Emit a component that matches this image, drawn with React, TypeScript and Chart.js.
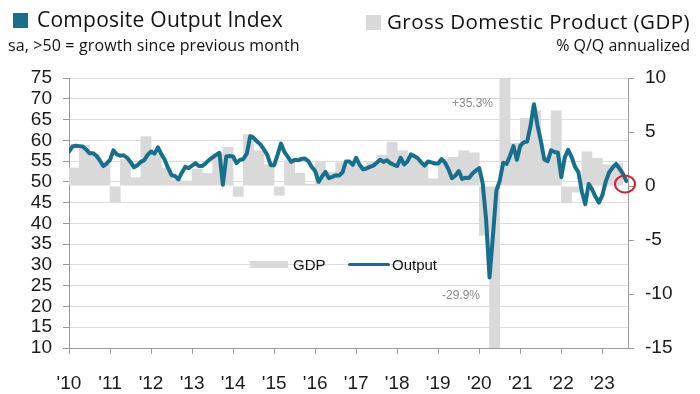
import React, { useEffect, useRef } from "react";
import { Chart, registerables } from "chart.js";

Chart.register(...registerables);

// ---------- data ----------
const yearTickLabels = ["'10", "'11", "'12", "'13", "'14", "'15", "'16", "'17", "'18", "'19", "'20", "'21", "'22", "'23"];

// Composite Output Index, monthly Jan 2010 .. Aug 2023 (sa, >50 = growth)
const output2010 = [57.3, 58.5, 58.7, 58.6, 58.5, 57.8, 56.9, 56.9, 56.3, 55.2, 53.8, 54.4];
const output2011 = [55.3, 57.6, 56.6, 56.3, 56.4, 55.8, 54.8, 53.5, 54.0, 54.8, 55.2, 56.5];
const output2012 = [57.3, 56.8, 58.3, 56.7, 55.3, 53.3, 51.6, 51.4, 50.6, 52.2, 53.6, 53.3];
const output2013 = [53.9, 54.5, 53.8, 53.8, 54.5, 55.3, 55.9, 56.5, 57.0, 49.3, 56.1, 56.2];
const output2014 = [56.1, 54.5, 55.3, 55.5, 56.8, 61.0, 60.6, 59.7, 59.0, 57.8, 56.5, 54.0];
const output2015 = [54.0, 56.5, 59.2, 57.2, 56.0, 54.8, 55.3, 55.2, 55.5, 55.6, 55.0, 53.6];
const output2016 = [52.6, 50.0, 51.3, 52.4, 50.9, 51.2, 51.6, 51.5, 52.3, 54.9, 54.9, 54.1];
const output2017 = [55.8, 54.1, 53.0, 53.2, 53.6, 53.9, 54.6, 55.3, 54.8, 55.2, 54.5, 54.1];
const output2018 = [53.8, 55.8, 54.2, 54.9, 56.6, 56.2, 55.7, 54.7, 53.9, 54.9, 54.7, 54.4];
const output2019 = [54.4, 55.5, 54.6, 53.0, 50.9, 51.5, 52.6, 50.7, 51.0, 50.9, 52.0, 52.7];
const output2020 = [53.3, 49.6, 40.9, 27.0, 37.0, 47.9, 50.3, 54.6, 54.3, 56.3, 58.6, 55.3];
const output2021 = [58.7, 59.5, 59.7, 63.5, 68.7, 63.7, 59.9, 55.4, 55.0, 57.6, 57.2, 57.0];
const output2022 = [51.1, 55.9, 57.7, 56.0, 53.6, 52.3, 47.7, 44.6, 49.5, 48.2, 46.4, 45.0];
const output2023 = [46.8, 50.1, 52.3, 53.4, 54.3, 53.2, 52.0, 50.2];

// GDP % Q/Q annualized, quarterly 2010Q1 .. 2023Q2
const gdp2010 = [1.7, 3.8, 2.9, 2.0];
const gdp2011 = [-1.5, 2.5, 0.8, 4.6];
const gdp2012 = [3.2, 1.7, 0.6, 0.5];
const gdp2013 = [1.6, 1.2, 3.0, 3.6];
const gdp2014 = [-1.0, 4.8, 3.3, 2.0];
const gdp2015 = [-0.9, 2.4, 1.2, 0.2];
const gdp2016 = [2.3, 1.3, 2.2, 2.0];
const gdp2017 = [1.9, 2.2, 2.9, 4.1];
const gdp2018 = [3.3, 2.7, 2.3, 0.7];
const gdp2019 = [2.5, 2.7, 3.3, 3.1];
const gdp2020 = [-4.6, -29.9, 35.3, 4.0];
const gdp2021 = [6.3, 7.0, 2.7, 7.0];
const gdp2022 = [-1.6, -0.6, 3.2, 2.6];
const gdp2023 = [2.0, 2.1];

const outputIndex = [
  ...output2010, ...output2011, ...output2012, ...output2013, ...output2014,
  ...output2015, ...output2016, ...output2017, ...output2018, ...output2019,
  ...output2020, ...output2021, ...output2022, ...output2023,
];
const gdpGrowth = [
  ...gdp2010, ...gdp2011, ...gdp2012, ...gdp2013, ...gdp2014,
  ...gdp2015, ...gdp2016, ...gdp2017, ...gdp2018, ...gdp2019,
  ...gdp2020, ...gdp2021, ...gdp2022, ...gdp2023,
];

const TEAL = "#166f8c";
const GREY_BAR = "#d9d9d9";
const AXIS = "#9a9a9a";
const LABEL_FONT = "'Liberation Sans', Arial, sans-serif";
const TITLE_FONT = "'Open Sans', Roboto, sans-serif";

export default function App() {
  const canvasRef = useRef<HTMLCanvasElement | null>(null);

  useEffect(() => {
    const canvas = canvasRef.current;
    if (!canvas) return;
    const chart = new Chart(canvas, {
      type: "bar",
      data: {
        datasets: [
          {
            type: "line",
            label: "Output",
            data: outputIndex.map((v, i) => ({ x: i, y: v })),
            borderColor: TEAL,
            backgroundColor: TEAL,
            borderWidth: 4,
            pointRadius: 0,
            tension: 0,
            borderJoinStyle: "round",
            borderCapStyle: "round",
            xAxisID: "x",
            yAxisID: "y",
            order: 0,
          } as any,
          {
            type: "bar",
            label: "GDP",
            data: gdpGrowth.map((v, i) => ({ x: i * 3 + 1.5, y: v })),
            backgroundColor: GREY_BAR,
            borderWidth: 0,
            barPercentage: 1.06,
            categoryPercentage: 1,
            xAxisID: "x",
            yAxisID: "y2",
            order: 1,
          } as any,
        ],
      },
      options: {
        responsive: false,
        animation: false,
        devicePixelRatio: 1,
        layout: { padding: { top: 78, left: 0, right: 0, bottom: 0 } },
        plugins: { legend: { display: false }, tooltip: { enabled: false } },
        scales: {
          x: {
            type: "linear",
            offset: false,
            min: 0,
            max: 163.5,
            afterBuildTicks: (s: any) => {
              s.ticks = yearTickLabels.map((_, i) => ({ value: i * 12 }));
            },
            afterFit: (s: any) => {
              s.height = 46;
            },
            ticks: {
              autoSkip: false,
              maxRotation: 0,
              padding: 18,
              color: "#1a1a1a",
              font: { family: LABEL_FONT, size: 19 },
              callback: (v: any) => yearTickLabels[Math.round(Number(v) / 12)],
            },
            grid: { offset: false, drawOnChartArea: false, drawTicks: true, tickLength: 6, tickColor: AXIS },
            border: { display: true, color: AXIS, width: 1 },
          },
          y: {
            type: "linear",
            position: "left",
            min: 10,
            max: 75,
            afterFit: (s: any) => {
              s.width = 69;
            },
            ticks: {
              stepSize: 5,
              autoSkip: false,
              padding: 11,
              color: "#1a1a1a",
              font: { family: LABEL_FONT, size: 19 },
            },
            grid: { color: "#dcdcdc", lineWidth: 1, tickLength: 6, tickColor: AXIS },
            border: { display: true, color: AXIS, width: 1 },
          },
          y2: {
            type: "linear",
            position: "right",
            min: -15,
            max: 10,
            afterFit: (s: any) => {
              s.width = 72;
            },
            ticks: {
              stepSize: 5,
              autoSkip: false,
              padding: 11,
              color: "#1a1a1a",
              font: { family: LABEL_FONT, size: 19 },
            },
            grid: { drawOnChartArea: false, tickLength: 6, tickColor: AXIS },
            border: { display: true, color: AXIS, width: 1 },
          },
        },
      },
    });
    return () => chart.destroy();
  }, []);

  const abs = (s: React.CSSProperties): React.CSSProperties => ({ position: "absolute", whiteSpace: "nowrap", ...s });

  return (
    <div style={{ position: "absolute", left: 0, top: 0, width: 700, height: 394, background: "#fff", overflow: "hidden" }}>
      <canvas ref={canvasRef} width={700} height={394} style={{ position: "absolute", left: 0, top: 0, width: 700, height: 394 }} />
      {/* header left */}
      <div style={abs({ left: 13, top: 13, width: 15, height: 15, background: TEAL })} />
      <div style={abs({ left: 37, top: 9, fontFamily: TITLE_FONT, fontSize: 21, lineHeight: "21px", letterSpacing: "0.25px", color: "#111" })}>Composite Output Index</div>
      <div style={abs({ left: 8, top: 37, fontFamily: TITLE_FONT, fontSize: 16, lineHeight: "16px", letterSpacing: "0.12px", color: "#111" })}>sa, &gt;50 = growth since previous month</div>
      {/* header right */}
      <div style={abs({ left: 366, top: 15, width: 15, height: 15, background: GREY_BAR })} />
      <div style={abs({ right: 10, top: 11, fontFamily: TITLE_FONT, fontSize: 20.5, lineHeight: "21px", letterSpacing: "0.45px", color: "#111" })}>Gross Domestic Product (GDP)</div>
      <div style={abs({ right: 10, top: 37, fontFamily: TITLE_FONT, fontSize: 16, lineHeight: "16px", color: "#111" })}>% Q/Q annualized</div>
      {/* inner legend */}
      <div style={abs({ left: 250, top: 261, width: 38, height: 7, background: GREY_BAR })} />
      <div style={abs({ left: 293, top: 256, fontFamily: LABEL_FONT, fontSize: 15, lineHeight: "18px", color: "#111" })}>GDP</div>
      <div style={abs({ left: 348, top: 262.5, width: 42, height: 3.5, background: TEAL, borderRadius: 2 })} />
      <div style={abs({ left: 392, top: 256, fontFamily: LABEL_FONT, fontSize: 15, lineHeight: "18px", color: "#111" })}>Output</div>
      {/* annotations */}
      <div style={abs({ left: 452, top: 96, fontFamily: LABEL_FONT, fontSize: 12, lineHeight: "14px", color: "#888" })}>+35.3%</div>
      <div style={abs({ left: 442, top: 288, fontFamily: LABEL_FONT, fontSize: 12, lineHeight: "14px", color: "#888" })}>-29.9%</div>
      <svg width={700} height={394} style={{ position: "absolute", left: 0, top: 0, pointerEvents: "none" }}>
        <ellipse cx={625} cy={184} rx={10} ry={8.5} fill="none" stroke="#d0212f" strokeWidth={2} />
      </svg>
    </div>
  );
}
